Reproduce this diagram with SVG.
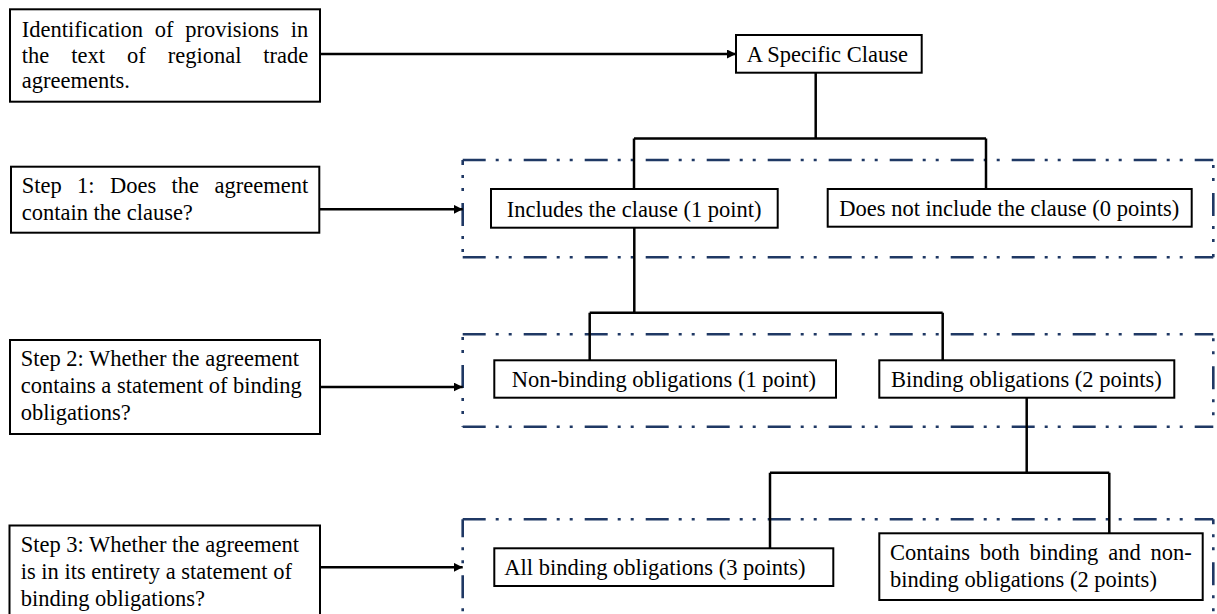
<svg xmlns="http://www.w3.org/2000/svg" width="1217" height="614" viewBox="0 0 1217 614">
<style>
text{font-family:"Liberation Serif","Times New Roman",serif;font-size:22.5px;fill:#000}
.box{fill:#fff;stroke:#000;stroke-width:2}
.con{fill:none;stroke:#000;stroke-width:2.5}
.dd{fill:none;stroke:#1f3864;stroke-width:2.6;stroke-dasharray:23 10 3 10 3 12}
</style>
<defs>
<marker id="ah" markerUnits="userSpaceOnUse" markerWidth="10" markerHeight="9" refX="9" refY="4.5" orient="auto">
<path d="M0,0 L9,4.5 L0,9 Z" fill="#000"/>
</marker>
</defs>

<g id="regions">
<g id="region1">
<line class="dd" x1="462.7" y1="160" x2="1213.3" y2="160"/>
<line class="dd" x1="462.7" y1="257.3" x2="1213.3" y2="257.3"/>
<line class="dd" x1="462.7" y1="160" x2="462.7" y2="257.3" stroke-dashoffset="18"/>
<line class="dd" x1="1213.3" y1="160" x2="1213.3" y2="257.3" stroke-dashoffset="28"/>
</g>
<g id="region2">
<line class="dd" x1="462.7" y1="334.3" x2="1213.3" y2="334.3"/>
<line class="dd" x1="462.7" y1="426.7" x2="1213.3" y2="426.7"/>
<line class="dd" x1="462.7" y1="334.3" x2="462.7" y2="426.7" stroke-dashoffset="30.3"/>
<line class="dd" x1="1213.3" y1="334.3" x2="1213.3" y2="426.7" stroke-dashoffset="29"/>
</g>
<g id="region3">
<line class="dd" x1="462.7" y1="519.3" x2="1213.3" y2="519.3"/>
<line class="dd" x1="462.7" y1="519.3" x2="462.7" y2="620" stroke-dashoffset="5"/>
<line class="dd" x1="1213.3" y1="519.3" x2="1213.3" y2="620" stroke-dashoffset="18"/>
</g>
</g>

<g id="connectors">
<line class="con" x1="320" y1="54" x2="736" y2="54" marker-end="url(#ah)"/>
<line class="con" x1="320" y1="209.3" x2="462.7" y2="209.3" marker-end="url(#ah)"/>
<line class="con" x1="320" y1="387" x2="462.7" y2="387" marker-end="url(#ah)"/>
<line class="con" x1="320" y1="567.3" x2="462.7" y2="567.3" marker-end="url(#ah)"/>
<path class="con" d="M815.7,72.7 V138.6 M634,138.6 H986 M634,138.6 V189 M986,138.6 V189"/>
<path class="con" d="M634.3,227.7 V312.7 M589.7,312.7 H942.7 M589.7,312.7 V360.3 M942.7,312.7 V360.3"/>
<path class="con" d="M1026.7,397.7 V472.7 M770,472.7 H1109.3 M770,472.7 V548.3 M1109.3,472.7 V533.3"/>
</g>

<g id="node-identification">
<rect class="box" x="10" y="9.3" width="310" height="92.4"/>
<text y="37"><tspan x="21.7">Identification</tspan><tspan x="154.7">of</tspan><tspan x="185.2">provisions</tspan><tspan x="290.8">in</tspan></text>
<text y="62.5"><tspan x="21.7">the</tspan><tspan x="71.2">text</tspan><tspan x="127">of</tspan><tspan x="167.7">regional</tspan><tspan x="263.3">trade</tspan></text>
<text x="21.7" y="88">agreements.</text>
</g>

<g id="node-specific">
<rect class="box" x="736" y="35" width="185.7" height="37.7"/>
<text x="746.7" y="61.7">A Specific Clause</text>
</g>

<g id="node-step1">
<rect class="box" x="11" y="166.7" width="308.3" height="66"/>
<text y="193.3"><tspan x="21.7">Step</tspan><tspan x="77.1">1:</tspan><tspan x="110">Does</tspan><tspan x="171.6">the</tspan><tspan x="214.5">agreement</tspan></text>
<text x="21.7" y="220">contain the clause?</text>
</g>

<g id="node-includes">
<rect class="box" x="491" y="189" width="286.7" height="38.7"/>
<text x="506.7" y="216.5">Includes the clause (1 point)</text>
</g>

<g id="node-notinclude">
<rect class="box" x="827.7" y="189" width="364" height="37.7"/>
<text x="839.3" y="215.5">Does not include the clause (0 points)</text>
</g>

<g id="node-step2">
<rect class="box" x="10" y="340" width="310" height="94"/>
<text x="20.7" y="366">Step 2: Whether the agreement</text>
<text x="20.7" y="393">contains a statement of binding</text>
<text x="20.7" y="420">obligations?</text>
</g>

<g id="node-nonbinding">
<rect class="box" x="494.3" y="360.3" width="341.7" height="37.4"/>
<text x="511.7" y="387">Non-binding obligations (1 point)</text>
</g>

<g id="node-binding">
<rect class="box" x="879.3" y="360.3" width="295" height="37.4"/>
<text x="891" y="387">Binding obligations (2 points)</text>
</g>

<g id="node-step3">
<rect class="box" x="9.5" y="525.5" width="310.5" height="92"/>
<text x="20.7" y="552">Step 3: Whether the agreement</text>
<text x="20.7" y="579">is in its entirety a statement of</text>
<text x="20.7" y="606">binding obligations?</text>
</g>

<g id="node-allbinding">
<rect class="box" x="494.3" y="548.3" width="339" height="37.7"/>
<text x="504.3" y="574.5">All binding obligations (3 points)</text>
</g>

<g id="node-contains">
<rect class="box" x="879.3" y="533.3" width="323.4" height="66.7"/>
<text y="560"><tspan x="890">Contains</tspan><tspan x="979.8">both</tspan><tspan x="1029.6">binding</tspan><tspan x="1108.2">and</tspan><tspan x="1150.5">non-</tspan></text>
<text x="890" y="586.7">binding obligations (2 points)</text>
</g>
</svg>
